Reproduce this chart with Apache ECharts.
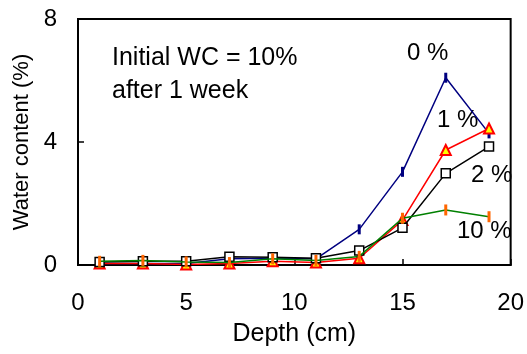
<!DOCTYPE html>
<html>
<head>
<meta charset="utf-8">
<script src="https://cdn.jsdelivr.net/npm/echarts@6/dist/echarts.min.js"></script>
<style>
  html, body { margin: 0; padding: 0; background: #fff; }
  #chart { width: 527px; height: 354px; }
</style>
</head>
<body>
<div id="chart"></div>
<script>
// depth (cm)
const depth = [1, 3, 5, 7, 9, 11, 13, 15, 17, 19]
// water content (%) per initial amendment
const wc0 = [0.05, 0.05, 0.05, 0.2, 0.22, 0.2, 1.16, 3.03, 6.09, 4.28]
const wc1 = [0.05, 0.05, 0.02, 0.05, 0.12, 0.08, 0.22, 1.46, 3.74, 4.44]
const wc2 = [0.1, 0.12, 0.12, 0.27, 0.25, 0.22, 0.47, 1.21, 2.98, 3.85]
const wc10 = [0.12, 0.15, 0.1, 0.08, 0.2, 0.15, 0.28, 1.52, 1.79, 1.57]
const xTicks = [0, 5, 10, 15, 20]
const yTicks = [0, 4, 8]

const pairs = ys => depth.map((d, i) => [d, ys[i]])
const dash = 'path://M0,0L1,0L1,4L0,4Z'
const font = 'Liberation Sans, Arial, sans-serif'

const option = {
  backgroundColor: '#fff',
  animation: false,
  grid: {
    left: 78, right: 15, top: 19, bottom: 89,
    show: true, borderColor: '#000', borderWidth: 2
  },
  xAxis: {
    type: 'value', min: 0, max: 20, interval: 5,
    name: 'Depth (cm)', nameLocation: 'middle', nameGap: 57,
    nameTextStyle: { fontSize: 25, color: '#000', fontFamily: font },
    axisLine: { lineStyle: { color: '#000', width: 2 } },
    axisTick: { inside: true, length: 6, lineStyle: { color: '#000', width: 1.5 } },
    axisLabel: {
      fontSize: 24, color: '#000', fontFamily: font, margin: 26,
      formatter: v => xTicks.includes(v) ? String(v) : ''
    },
    splitLine: { show: false }
  },
  yAxis: {
    type: 'value', min: 0, max: 8, interval: 4,
    name: 'Water content (%)', nameLocation: 'middle', nameGap: 41,
    nameTextStyle: { fontSize: 22, color: '#000', fontFamily: font },
    axisLine: { lineStyle: { color: '#000', width: 2 } },
    axisTick: { inside: true, length: 6, lineStyle: { color: '#000', width: 1.5 } },
    axisLabel: {
      fontSize: 24, color: '#000', fontFamily: font, margin: 21,
      formatter: v => yTicks.includes(v) ? String(v) : ''
    },
    splitLine: { show: false }
  },
  series: [
    {
      name: '0 %', type: 'line', data: pairs(wc0),
      lineStyle: { color: '#000080', width: 1.5 },
      symbol: dash, symbolSize: [3, 10],
      itemStyle: { color: '#000080' }, z: 2
    },
    {
      name: '1 %', type: 'line', data: pairs(wc1),
      lineStyle: { color: '#ff0000', width: 1.5 },
      symbol: 'triangle', symbolSize: 10,
      itemStyle: { color: '#ffff00', borderColor: '#ff0000', borderWidth: 2 }, z: 3
    },
    {
      name: '2 %', type: 'line', data: pairs(wc2),
      lineStyle: { color: '#000', width: 1.5 },
      symbol: 'rect', symbolSize: 9,
      itemStyle: { color: '#fff', borderColor: '#000', borderWidth: 1.5 }, z: 4
    },
    {
      name: '10 %', type: 'line', data: pairs(wc10),
      lineStyle: { color: '#008000', width: 1.5 },
      symbol: dash, symbolSize: [3, 11],
      itemStyle: { color: '#ff6600' }, z: 5
    }
  ],
  graphic: [
    { type: 'text', left: 112, top: 42, style: { text: 'Initial WC = 10%\nafter 1 week', fontSize: 25, lineHeight: 33, fill: '#000', fontFamily: font } },
    { type: 'text', left: 407, top: 41, style: { text: '0 %', fontSize: 24, fill: '#000', fontFamily: font } },
    { type: 'text', left: 437, top: 108, style: { text: '1 %', fontSize: 24, fill: '#000', fontFamily: font } },
    { type: 'text', left: 471, top: 163, style: { text: '2 %', fontSize: 24, fill: '#000', fontFamily: font } },
    { type: 'text', left: 457, top: 219, style: { text: '10 %', fontSize: 24, fill: '#000', fontFamily: font } }
  ]
}

const myChart = echarts.init(document.getElementById('chart'))
myChart.setOption(option)
</script>
</body>
</html>
